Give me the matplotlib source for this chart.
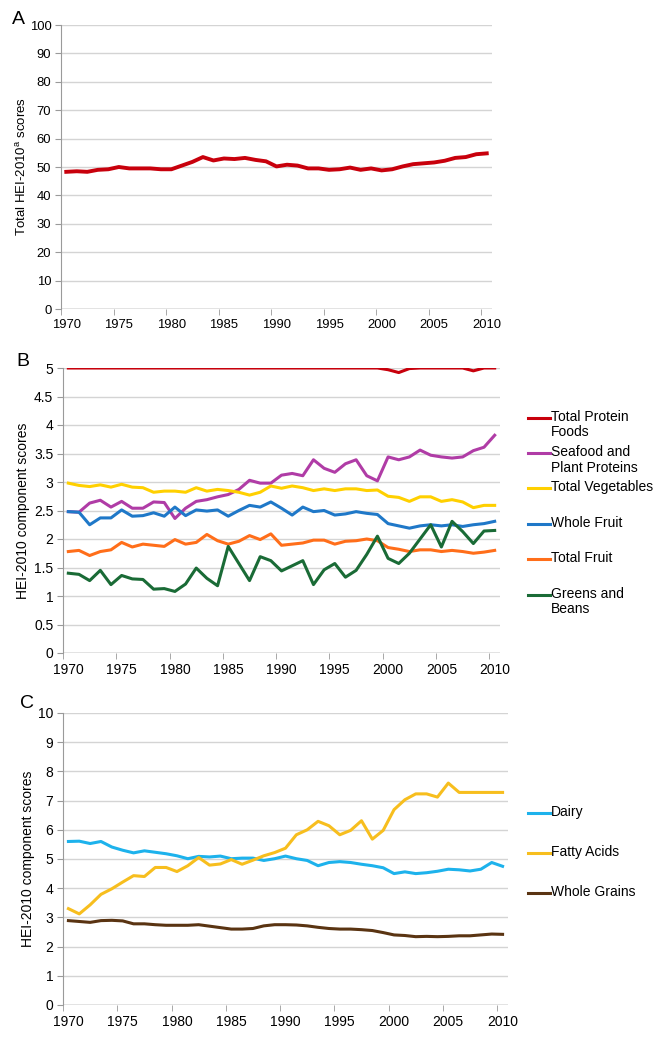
"""HEI-2010 trends 1970-2010: total score (A) and component scores (B, C)."""

import matplotlib
matplotlib.use("Agg")
import matplotlib.pyplot as plt
from matplotlib.lines import Line2D
from matplotlib.ticker import FormatStrFormatter

plt.rcParams["font.family"] = ["Liberation Sans", "DejaVu Sans"]
plt.rcParams["mathtext.fontset"] = "custom"
plt.rcParams["mathtext.rm"] = "Liberation Sans"

years = list(range(1970, 2011))

# Panel A
total_hei = [48.3, 48.5, 48.3, 49.0, 49.2, 50.0, 49.5, 49.5, 49.5, 49.2,
             49.2, 50.5, 51.8, 53.5, 52.3, 53.0, 52.8, 53.2, 52.5, 52.0,
             50.2, 50.8, 50.5, 49.5, 49.5, 49.0, 49.2, 49.8, 49.0, 49.5,
             48.8, 49.2, 50.2, 51.0, 51.3, 51.6, 52.2, 53.2, 53.5, 54.5, 54.8]

# Panel B
protein = [5.0] * 30 + [4.97, 4.92, 4.99, 5.0, 5.0, 5.0, 5.0, 5.0, 4.95, 5.0, 5.0]
seafood = [2.48, 2.47, 2.63, 2.68, 2.56, 2.66, 2.54, 2.54, 2.65, 2.64,
           2.36, 2.54, 2.66, 2.69, 2.74, 2.78, 2.87, 3.03, 2.98, 2.98,
           3.12, 3.15, 3.11, 3.39, 3.24, 3.17, 3.32, 3.39, 3.11, 3.02,
           3.44, 3.39, 3.44, 3.56, 3.47, 3.44, 3.42, 3.44, 3.55, 3.61, 3.82]
vegetables = [2.98, 2.94, 2.92, 2.95, 2.91, 2.96, 2.91, 2.90, 2.82, 2.84,
              2.84, 2.82, 2.90, 2.84, 2.87, 2.85, 2.82, 2.77, 2.82, 2.93,
              2.89, 2.93, 2.90, 2.85, 2.88, 2.85, 2.88, 2.88, 2.85, 2.86,
              2.75, 2.73, 2.66, 2.74, 2.74, 2.66, 2.69, 2.65, 2.55, 2.59, 2.59]
whole_fruit = [2.48, 2.47, 2.25, 2.37, 2.37, 2.51, 2.40, 2.41, 2.46, 2.40,
               2.56, 2.41, 2.51, 2.49, 2.51, 2.40, 2.50, 2.59, 2.56, 2.65,
               2.54, 2.42, 2.56, 2.48, 2.50, 2.42, 2.44, 2.48, 2.45, 2.43,
               2.27, 2.23, 2.19, 2.23, 2.25, 2.23, 2.25, 2.22, 2.25, 2.27, 2.31]
total_fruit = [1.78, 1.80, 1.71, 1.78, 1.81, 1.94, 1.86, 1.91, 1.89, 1.87,
               1.99, 1.91, 1.94, 2.08, 1.97, 1.91, 1.96, 2.06, 1.99, 2.09,
               1.89, 1.91, 1.93, 1.98, 1.98, 1.91, 1.96, 1.97, 2.00, 1.97,
               1.85, 1.82, 1.78, 1.81, 1.81, 1.78, 1.80, 1.78, 1.75, 1.77, 1.80]
greens = [1.40, 1.38, 1.27, 1.45, 1.20, 1.36, 1.30, 1.29, 1.12, 1.13,
          1.08, 1.21, 1.49, 1.31, 1.18, 1.87, 1.57, 1.27, 1.69, 1.62,
          1.44, 1.53, 1.62, 1.20, 1.46, 1.57, 1.33, 1.45, 1.73, 2.05,
          1.66, 1.57, 1.75, 2.00, 2.25, 1.86, 2.31, 2.13, 1.92, 2.14, 2.15]

# Panel C
dairy = [5.60, 5.61, 5.53, 5.60, 5.41, 5.30, 5.21, 5.28, 5.23, 5.18,
         5.11, 5.01, 5.09, 5.07, 5.10, 5.01, 5.03, 5.03, 4.95, 5.01,
         5.10, 5.01, 4.95, 4.77, 4.88, 4.91, 4.88, 4.82, 4.77, 4.70,
         4.50, 4.56, 4.50, 4.53, 4.58, 4.65, 4.63, 4.59, 4.65, 4.88, 4.75]
fatty_acids = [3.30, 3.12, 3.43, 3.79, 3.98, 4.21, 4.43, 4.40, 4.71, 4.71,
               4.57, 4.77, 5.05, 4.79, 4.83, 4.98, 4.82, 4.96, 5.11, 5.22,
               5.37, 5.83, 6.00, 6.29, 6.14, 5.83, 5.98, 6.31, 5.68, 5.98,
               6.69, 7.03, 7.23, 7.23, 7.12, 7.60, 7.28, 7.28, 7.28, 7.28, 7.28]
whole_grains = [2.89, 2.86, 2.83, 2.89, 2.90, 2.88, 2.78, 2.78, 2.75, 2.73,
                2.73, 2.73, 2.75, 2.70, 2.65, 2.60, 2.60, 2.62, 2.71, 2.75,
                2.75, 2.74, 2.71, 2.66, 2.62, 2.60, 2.60, 2.58, 2.55, 2.48,
                2.40, 2.38, 2.34, 2.35, 2.34, 2.35, 2.37, 2.37, 2.40, 2.43, 2.42]

series_b = [
    ("Total Protein\nFoods", protein, "#C8000C"),
    ("Seafood and\nPlant Proteins", seafood, "#B03CA6"),
    ("Total Vegetables", vegetables, "#FFD000"),
    ("Whole Fruit", whole_fruit, "#1F78C8"),
    ("Total Fruit", total_fruit, "#FF6E1A"),
    ("Greens and\nBeans", greens, "#1A6B36"),
]
series_c = [
    ("Dairy", dairy, "#1DB2EC"),
    ("Fatty Acids", fatty_acids, "#F7BE1E"),
    ("Whole Grains", whole_grains, "#5A3412"),
]

GRID = "#d4d4d4"
AXIS = "#9a9a9a"


def style_axis(ax, ymax, ystep, size):
    ax.set_xlim(1969.5, 2010.5)
    ax.set_ylim(0, ymax)
    ax.set_yticks([i * ystep for i in range(int(round(ymax / ystep)) + 1)])
    ax.yaxis.set_major_formatter(FormatStrFormatter("%g"))
    ax.set_xticks(range(1970, 2011, 5))
    ax.set_xticks([1969.5 + 5 * k for k in range(9)], minor=True)
    ax.tick_params(axis="x", which="major", length=0, labelsize=size, pad=7)
    ax.tick_params(axis="x", which="minor", length=4, color=AXIS)
    ax.tick_params(axis="y", length=4, color=AXIS, labelsize=size, pad=3)
    ax.grid(axis="y", color=GRID, lw=1)
    ax.set_axisbelow(True)
    for side in ("top", "right", "bottom"):
        ax.spines[side].set_visible(False)
    ax.spines["left"].set_color(AXIS)
    ax.axhline(0, color=AXIS, lw=1)


def side_legend(ax, entries, x0, y0, step):
    # Excel-style legend: short line, label's first line level with it
    for k, (label, _, color) in enumerate(entries):
        y = y0 - k * step
        ax.add_line(Line2D([x0, x0 + 0.05], [y, y], color=color, lw=2.2,
                           transform=ax.transAxes, clip_on=False))
        ax.text(x0 + 0.052, y + 0.028, label, transform=ax.transAxes,
                fontsize=10, va="top", ha="left", linespacing=1.15)


def y_label(ax, text, x_px, left_px, width_px, size):
    # centre the rotated label on a given pixel column
    ax.set_ylabel(text, fontsize=size, va="center")
    ax.yaxis.set_label_coords((x_px - left_px) / width_px, 0.5)


fig = plt.figure(figsize=(6.66, 10.42), dpi=100)
W, H = 666, 1042


def add_axes(left, right, top, bottom):
    return fig.add_axes([left / W, 1 - bottom / H, (right - left) / W, (bottom - top) / H])


# A
ax_a = add_axes(61, 492, 25, 309)
ax_a.plot(years, total_hei, color="#C8000C", lw=2.8, solid_joinstyle="round")
style_axis(ax_a, 100, 10, 9.4)
y_label(ax_a, "Total HEI-2010$^\\mathregular{a}$ scores", 22, 61, 431, 9.5)
fig.text(18 / W, 1 - 20 / H, "A", fontsize=14, ha="center", va="center")

# B
ax_b = add_axes(63, 500, 368, 653)
for label, vals, color in series_b:
    ax_b.plot(years, vals, color=color, lw=2.2, solid_joinstyle="round")
style_axis(ax_b, 5, 0.5, 10)
y_label(ax_b, "HEI-2010 component scores", 23, 63, 437, 10)
side_legend(ax_b, series_b, 1.064, 0.826, 0.1243)
fig.text(23 / W, 1 - 362 / H, "B", fontsize=14, ha="center", va="center")

# C
ax_c = add_axes(63, 508, 713, 1005)
for label, vals, color in series_c:
    ax_c.plot(years, vals, color=color, lw=2.2, solid_joinstyle="round")
style_axis(ax_c, 10, 1, 10)
y_label(ax_c, "HEI-2010 component scores", 28, 63, 445, 10)
side_legend(ax_c, series_c, 1.045, 0.6575, 0.137)
fig.text(27 / W, 1 - 703 / H, "C", fontsize=14, ha="center", va="center")

fig.savefig("out.png", dpi=100)
